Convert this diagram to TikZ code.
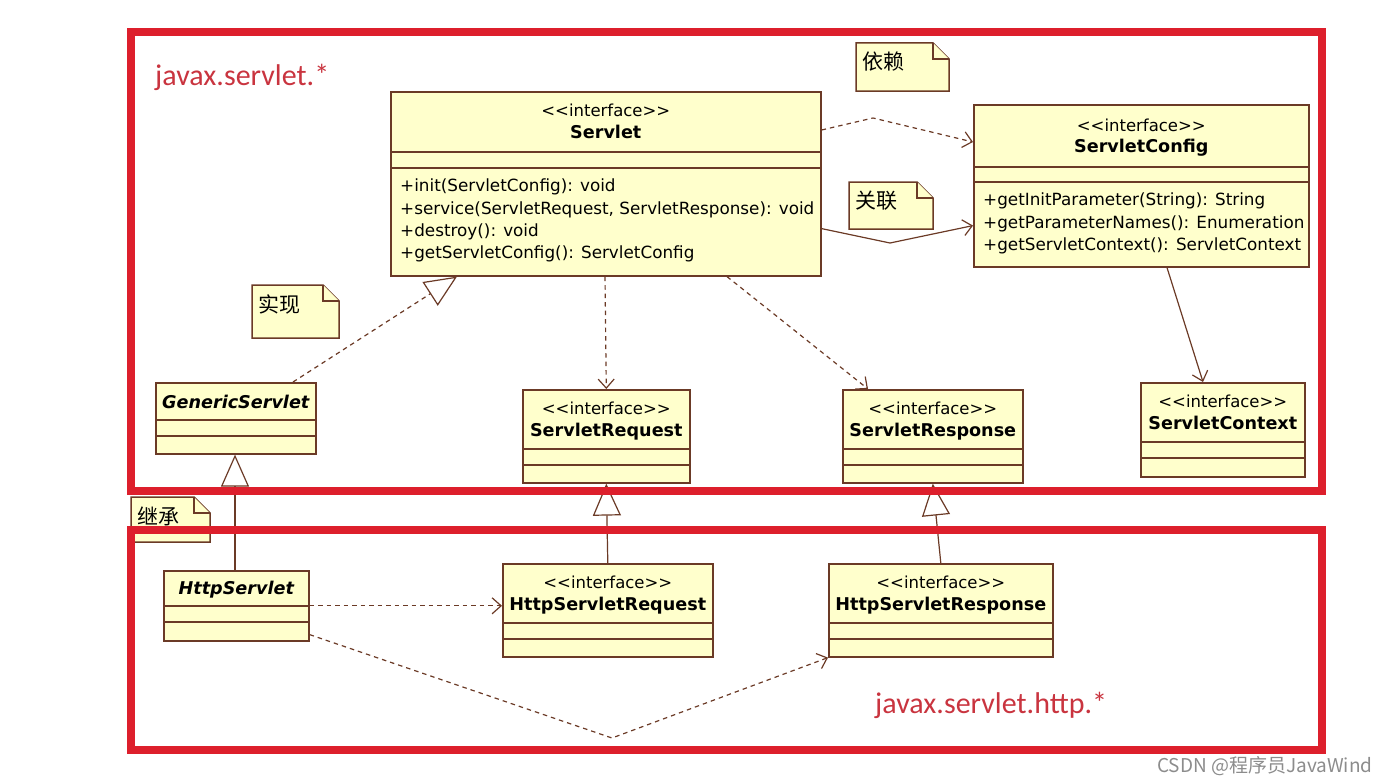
\documentclass[tikz,border=0pt]{standalone}
\usepackage{fontspec}
\newfontfamily\umlfont{DejaVu Sans}
\newfontfamily\cjkfont{Noto Sans CJK SC}
\newfontfamily\pkgfont{Carlito}
\usetikzlibrary{arrows.meta}

\definecolor{umlfill}{HTML}{FFFFCC}
\definecolor{umledge}{HTML}{6B3A26}
\definecolor{framered}{HTML}{DD1F2C}
\definecolor{pkgred}{HTML}{C9343F}
\definecolor{markgray}{HTML}{8C8C8C}

\newcommand{\stereo}{\mbox{<}\mbox{<}interface\mbox{>}\mbox{>}}

% class box: name, x1, y1, x2, y2, first and second compartment line
\newcommand{\umlclass}[7]{%
  \node[classbox, minimum width=#4-#2, minimum height=#5-#3] (#1) at (#2,#3) {};
  \draw[compart] ([yshift=-#6pt]#1.north west) -- ([yshift=-#6pt]#1.north east);
  \draw[compart] ([yshift=-#7pt]#1.north west) -- ([yshift=-#7pt]#1.north east);
}

% note with folded corner: name, x1, y1, x2, y2, text
\newcommand{\umlnote}[6]{%
  \filldraw[notebox] (#2,#3) -- (#4-16,#3) -- (#4,#3+16) -- (#4,#5) -- (#2,#5) -- cycle;
  \draw[notebox] (#4-16,#3) -- (#4-16,#3+16) -- (#4,#3+16);
  \node[notetxt] (#1) at (#2+6,#3+19) {#6};
}

\tikzset{
  classbox/.style={draw=umledge, fill=umlfill, line width=1.6pt, inner sep=0pt, anchor=north west},
  compart/.style={draw=umledge, line width=1.6pt},
  stereotxt/.style={font=\umlfont\fontsize{16.5}{18}\selectfont, anchor=base, inner sep=0pt},
  nametxt/.style={font=\umlfont\bfseries\fontsize{17.6}{20}\selectfont, anchor=base, inner sep=0pt},
  nameital/.style={font=\umlfont\bfseries\itshape\fontsize{17.6}{20}\selectfont, anchor=base, inner sep=0pt},
  optxt/.style={font=\umlfont\fontsize{16.8}{22.3}\selectfont, anchor=north west, align=left, inner sep=0pt},
  notebox/.style={draw=umledge, fill=umlfill, line width=1.5pt, line join=miter},
  notetxt/.style={font=\cjkfont\fontsize{21}{24}\selectfont, anchor=west, inner sep=0pt},
  pkgtxt/.style={font=\pkgfont\fontsize{30}{34}\selectfont, text=pkgred, anchor=base west, inner sep=0pt},
  marktxt/.style={font=\cjkfont\fontsize{19}{22}\selectfont, text=markgray, anchor=base west, inner sep=0pt},
  pkgframe/.style={draw=framered, line width=8pt},
  dep/.style={draw=umledge, line width=1.2pt, dash pattern=on 4.5pt off 4pt, -{Straight Barb[length=9pt,width=16pt]}},
  assoc/.style={draw=umledge, line width=1.2pt, -{Straight Barb[length=9pt,width=16pt]}},
  realize/.style={draw=umledge, line width=1.2pt, dash pattern=on 4.5pt off 4pt, -{Triangle[open,length=32pt,width=28pt,fill=white]}},
  inherit/.style={draw=umledge, line width=1.2pt, -{Triangle[open,length=32pt,width=28pt,fill=white]}}
}

\begin{document}
\begin{tikzpicture}[x=1pt,y=-1pt]
\useasboundingbox (0,0) rectangle (1384,784);

% notes
\umlnote{dep-note}{856}{43}{949}{91}{依赖}
\umlnote{assoc-note}{849}{182}{933}{229}{关联}
\umlnote{real-note}{252}{285}{339}{338}{实现}
\umlnote{inh-note}{131}{497}{210}{542}{继承}

% javax.servlet
\umlclass{servlet}{390}{91}{820}{275}{61}{77}
\node[stereotxt] (servlet-st) at ([yshift=-25pt]servlet.north) {\stereo};
\node[nametxt] (servlet-nm) at ([yshift=-47pt]servlet.north) {Servlet};
\node[optxt] (servlet-op) at ([xshift=10pt,yshift=-88pt]servlet.north west) {+init(ServletConfig): void\\+service(ServletRequest, ServletResponse): void\\+destroy(): void\\+getServletConfig(): ServletConfig};

\umlclass{config}{973}{104}{1308}{266}{63}{78}
\node[stereotxt] (config-st) at ([yshift=-27pt]config.north) {\stereo};
\node[nametxt] (config-nm) at ([yshift=-48pt]config.north) {ServletConfig};
\node[optxt] (config-op) at ([xshift=10pt,yshift=-89pt]config.north west) {+getInitParameter(String): String\\+getParameterNames(): Enumeration\\+getServletContext(): ServletContext};

\umlclass{generic}{155}{382}{315}{453}{38}{54}
\node[nameital] (generic-nm) at ([yshift=-26pt]generic.north) {GenericServlet};

\umlclass{request}{522}{389}{689}{482}{60}{76}
\node[stereotxt] (request-st) at ([yshift=-25pt]request.north) {\stereo};
\node[nametxt] (request-nm) at ([yshift=-47pt]request.north) {ServletRequest};

\umlclass{response}{842}{389}{1022}{482}{60}{76}
\node[stereotxt] (response-st) at ([yshift=-25pt]response.north) {\stereo};
\node[nametxt] (response-nm) at ([yshift=-47pt]response.north) {ServletResponse};

\umlclass{context}{1140}{382}{1304}{476}{60}{76}
\node[stereotxt] (context-st) at ([yshift=-25pt]context.north) {\stereo};
\node[nametxt] (context-nm) at ([yshift=-47pt]context.north) {ServletContext};

% javax.servlet.http
\umlclass{http}{163}{570}{308}{640}{36}{52}
\node[nameital] (http-nm) at ([yshift=-24pt]http.north) {HttpServlet};

\umlclass{hrequest}{502}{563}{712}{656}{60}{76}
\node[stereotxt] (hrequest-st) at ([yshift=-25pt]hrequest.north) {\stereo};
\node[nametxt] (hrequest-nm) at ([yshift=-47pt]hrequest.north) {HttpServletRequest};

\umlclass{hresponse}{828}{563}{1052}{656}{60}{76}
\node[stereotxt] (hresponse-st) at ([yshift=-25pt]hresponse.north) {\stereo};
\node[nametxt] (hresponse-nm) at ([yshift=-47pt]hresponse.north) {HttpServletResponse};

% relations
\coordinate (dep-bend) at (873,118);
\coordinate (assoc-bend) at (890,243);
\coordinate (http-bend) at (612,738);

\draw[dep] ([yshift=-39pt]servlet.north east) -- (dep-bend) -- ([yshift=-38pt]config.north west);
\draw[assoc] ([yshift=48pt]servlet.south east) -- (assoc-bend) -- ([yshift=42pt]config.south west);
\draw[dep] ([xshift=215pt]servlet.south west) -- (request.north);
\draw[dep] ([xshift=337pt]servlet.south west) -- ([xshift=26pt]response.north west);
\draw[realize] ([xshift=138pt]generic.north west) -- ([xshift=67pt]servlet.south west);
\draw[assoc] ([xshift=194pt]config.south west) -- ([xshift=63pt]context.north west);

\draw[inherit] ([xshift=72pt]http.north west) -- ([xshift=80pt]generic.south west);
\draw[inherit] (hrequest.north) -- (request.south);
\draw[inherit] (hresponse.north) -- (response.south);
\draw[dep] (http.east) -- (http.east -| hrequest.west);
\draw[dep] ([yshift=7pt]http.south east) -- (http-bend) -- (hresponse.south west);

% package labels
\node[pkgtxt] (pkg-servlet) at (155,85) {javax.servlet.*};
\node[pkgtxt] (pkg-http) at (875,713) {javax.servlet.http.*};
\node[marktxt] (csdn-mark) at (1157,772) {CSDN @程序员JavaWind};

% package frames
\draw[pkgframe] (131,32) rectangle (1322,491);
\draw[pkgframe] (131,530) rectangle (1322,750);
\end{tikzpicture}
\end{document}
